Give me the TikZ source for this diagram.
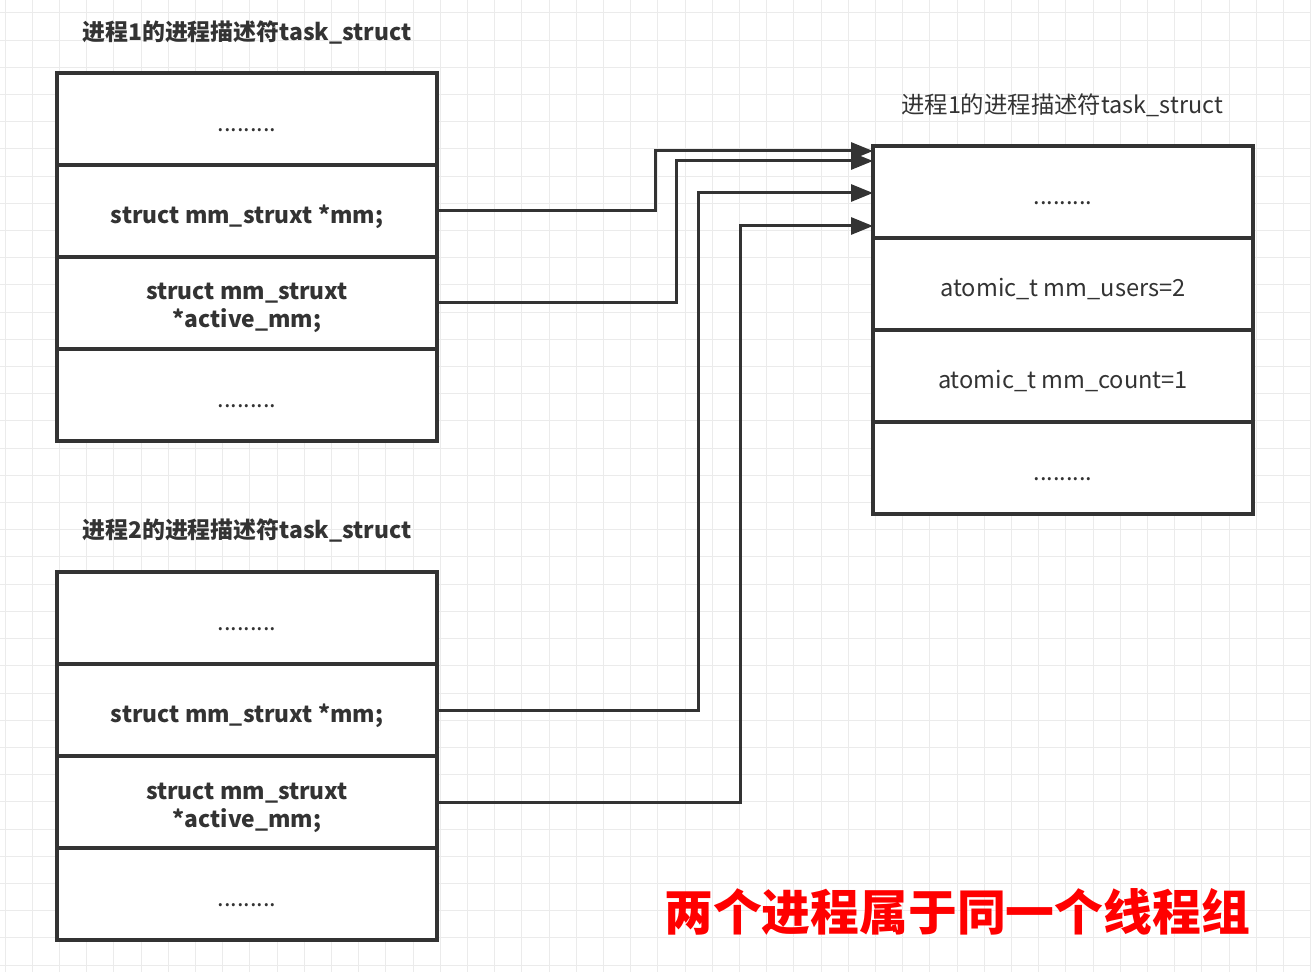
\documentclass[tikz,border=0pt]{standalone}
\usepackage{fontspec}
\setmainfont{Noto Sans CJK SC}
\usetikzlibrary{positioning,calc,arrows.meta}
\definecolor{ink}{HTML}{333333}
\definecolor{gridgray}{HTML}{EBEBEB}
\definecolor{alarm}{HTML}{FF0000}
\tikzset{
  cell/.style={draw=ink,line width=1.6pt,fill=white,minimum width=190pt,
    minimum height=46pt,inner sep=0pt,outer sep=0pt,text=ink,align=center,
    text height=12.5pt,text depth=0pt,font=\fontsize{11.8}{14}\selectfont},
  boldcell/.style={cell,font=\fontsize{11.4}{14}\selectfont\bfseries},
  twoline/.style={text height=25pt,text depth=0pt},
  conn/.style={draw=ink,line width=1.5pt,-{Triangle[length=11pt,width=8.5pt]}},
  caption/.style={text=ink,font=\fontsize{11.7}{14}\selectfont}
}

\begin{document}
\begin{tikzpicture}[x=0.5pt,y=-0.5pt]
  \useasboundingbox (0,0) rectangle (1311,972);
  \fill[white] (0,0) rectangle (1311,972);
  % grid
  \foreach \gx in {0,...,48}
    \draw[gridgray,line width=0.5pt] ({5+27.2*\gx},0) -- ++(0,972);
  \foreach \gy in {0,...,35}
    \draw[gridgray,line width=0.5pt] (0,{13+27.2*\gy}) -- ++(1311,0);

  % process 1
  \node[caption,font=\fontsize{11.45}{14}\selectfont\bfseries] (t1) at (247,33) {进程1的进程描述符task\_struct};
  \node[cell,anchor=north west] (a1) at (57,73) {.........};
  \node[boldcell,below=0pt of a1] (a2) {struct mm\_struxt *mm;};
  \node[boldcell,twoline,below=0pt of a2] (a3) {struct mm\_struxt\\*active\_mm;};
  \node[cell,below=0pt of a3] (a4) {.........};

  % process 2
  \node[caption,font=\fontsize{11.45}{14}\selectfont\bfseries] (t2) at (247,531) {进程2的进程描述符task\_struct};
  \node[cell,anchor=north west] (b1) at (57,572) {.........};
  \node[boldcell,below=0pt of b1] (b2) {struct mm\_struxt *mm;};
  \node[boldcell,twoline,below=0pt of b2] (b3) {struct mm\_struxt\\*active\_mm;};
  \node[cell,below=0pt of b3] (b4) {.........};

  % shared mm
  \node[caption] (t3) at (1062,105) {进程1的进程描述符task\_struct};
  \node[cell,anchor=north west] (c1) at (873,146) {.........};
  \node[cell,below=0pt of c1] (c2) {atomic\_t mm\_users=2};
  \node[cell,below=0pt of c2] (c3) {atomic\_t mm\_count=1};
  \node[cell,below=0pt of c3] (c4) {.........};

  \coordinate (in1) at (873,151);
  \coordinate (in2) at (873,161);
  \coordinate (in3) at (873,193);
  \coordinate (in4) at (873,226);
  \coordinate (k1) at (655,0);
  \coordinate (k2) at (676,0);
  \coordinate (k3) at (698,0);
  \coordinate (k4) at (740,0);

  \draw[conn] (a2.east) -| (k1 |- in1) -- (in1);
  \draw[conn] (a3.east) -| (k2 |- in2) -- (in2);
  \draw[conn] (b2.east) -| (k3 |- in3) -- (in3);
  \draw[conn] (b3.east) -| (k4 |- in4) -- (in4);

  \node[text=alarm,font=\fontsize{24.4}{28}\selectfont\bfseries] (note) at (957,912) {两个进程属于同一个线程组};
\end{tikzpicture}
\end{document}
